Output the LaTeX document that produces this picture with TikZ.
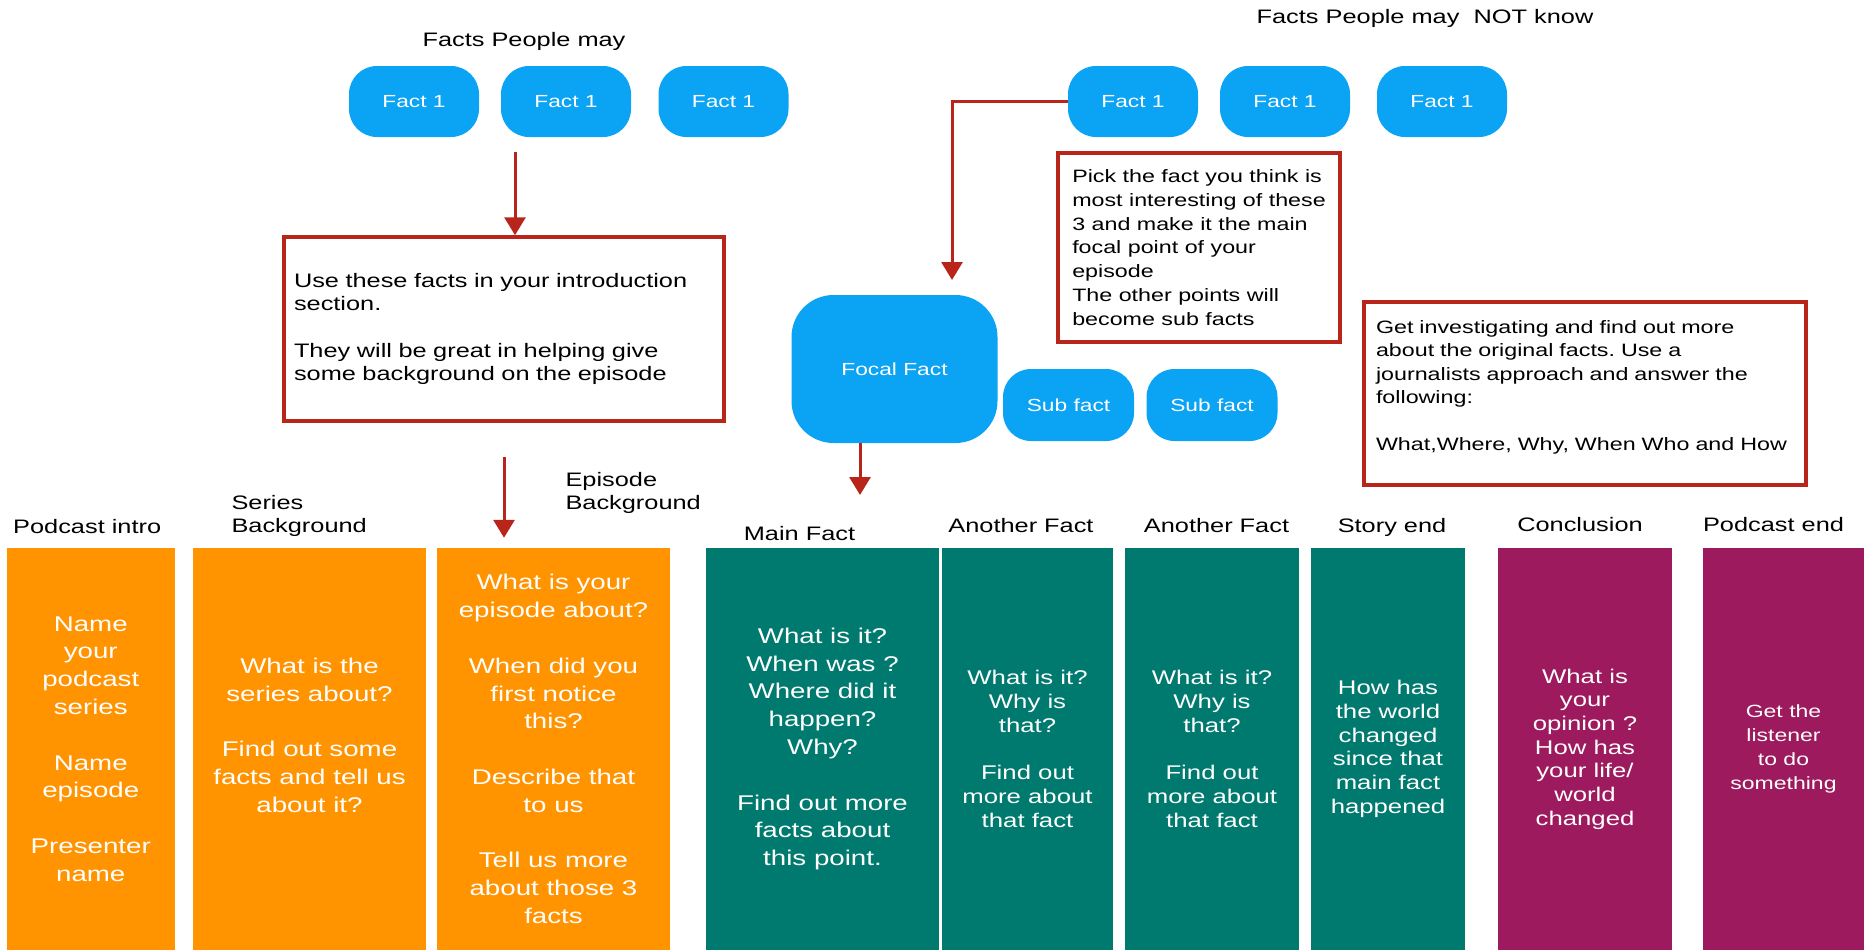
\documentclass[tikz,border=0pt]{standalone}
\usepackage{fontspec}
\setmainfont{Liberation Sans}[FakeStretch=1.3]
\usepackage{tikz}
\usetikzlibrary{arrows.meta}
\definecolor{factblue}{HTML}{0BA3F4}
\definecolor{notered}{HTML}{B8261B}
\definecolor{introorange}{HTML}{FF9300}
\definecolor{storyteal}{HTML}{007A6F}
\definecolor{endplum}{HTML}{9C1A5D}
\newcommand{\fs}[2]{\fontsize{#1}{#2}\selectfont}
\frenchspacing

\begin{document}
\begin{tikzpicture}[x=1pt,y=-1pt,
  fact/.style={fill=factblue,text=white,rounded corners=28pt,minimum width=130pt,minimum height=71pt,font=\fs{17.5}{21}},
  note/.style={draw=notered,line width=3.5pt,align=left,font=\fs{19.5}{23.3}},
  col/.style={text=white,align=center,minimum height=402pt,inner sep=0pt,font=\fs{21.3}{27.8}},
  small/.style={font=\fs{19.8}{23.7}},
  head/.style={anchor=base,font=\fs{19.5}{23.5}},
  arr/.style={notered,line width=3pt,-{Triangle[width=21pt,length=18pt]}}]
  \useasboundingbox (0,0) rectangle (1864,951);

  \node[head] (mayT) at (524,46.5) {Facts People may};
  \node[head] (notT) at (1425,23) {Facts People may\ \ NOT know};
  \node[fact] (may1) at (414,101.5) {Fact 1};
  \node[fact] (may2) at (566,101.5) {Fact 1};
  \node[fact] (may3) at (723.5,101.5) {Fact 1};
  \node[fact] (not1) at (1133,101.5) {Fact 1};
  \node[fact] (not2) at (1285,101.5) {Fact 1};
  \node[fact] (not3) at (1442,101.5) {Fact 1};

  \node[note,text width=420pt,inner xsep=10pt,minimum height=184pt] (intro) at (504,329) {Use these facts in your introduction\\section.\\[23.3pt]They will be great in helping give\\some background on the episode};
  \node[note,font=\fs{17.9}{23.8},minimum width=282pt,minimum height=189pt] (pick) at (1199,247.5) {Pick the fact you think is\\most interesting of these\\3 and make it the main\\focal point of your\\episode\\The other points will\\become sub facts};
  \node[note,font=\fs{17.9}{23.5},text width=418pt,inner xsep=12pt,minimum height=183pt] (dig) at (1585,393.5) {Get investigating and find out more\\about the original facts. Use a\\journalists approach and answer the\\following:\\[23.5pt]What,Where, Why, When Who and How\\[-7.5pt]\mbox{}};

  \node[fact,rounded corners=42pt,minimum width=206pt,minimum height=148pt] (focal) at (894.5,369) {Focal Fact};
  \node[fact,minimum width=131pt,minimum height=72pt] (sub1) at (1068.5,405) {Sub fact};
  \node[fact,minimum width=131pt,minimum height=72pt] (sub2) at (1212,405) {Sub fact};

  \node[head] (podintroT) at (87.2,533.3) {Podcast intro};
  \node[head,anchor=west,align=left] (seriesT) at (228,516) {Series\\Background};
  \node[head,anchor=west,align=left] (episodeT) at (562,493) {Episode\\Background};
  \node[head] (mainT) at (799.5,540) {Main Fact};
  \node[head] (other1T) at (1021,532.5) {Another Fact};
  \node[head] (other2T) at (1216.5,532.5) {Another Fact};
  \node[head] (storyT) at (1392,532) {Story end};
  \node[head] (conclT) at (1580,531.5) {Conclusion};
  \node[head] (podendT) at (1773.5,531.5) {Podcast end};

  \node[col,fill=introorange,minimum width=168.5pt] (podintro) at (90.75,749) {Name\\your\\podcast\\series\\[27.8pt]Name\\episode\\[27.8pt]Presenter\\name};
  \node[col,fill=introorange,minimum width=233pt] (series) at (309.5,749) {What is the\\series about?\\[27.8pt]Find out some\\facts and tell us\\about it?\\\mbox{}};
  \node[col,fill=introorange,minimum width=233pt] (episode) at (553.5,749) {What is your\\episode about?\\[27.8pt]When did you\\first notice\\this?\\[27.8pt]Describe that\\to us\\[27.8pt]Tell us more\\about those 3\\facts};
  \node[col,fill=storyteal,minimum width=233pt] (main) at (822.5,749) {What is it?\\When was ?\\Where did it\\happen?\\Why?\\[27.8pt]Find out more\\facts about\\this point.};
  \node[col,small,fill=storyteal,minimum width=171pt] (other1) at (1027.5,749) {What is it?\\Why is\\that?\\[23.7pt]Find out\\more about\\that fact};
  \node[col,small,fill=storyteal,minimum width=174pt] (other2) at (1212,749) {What is it?\\Why is\\that?\\[23.7pt]Find out\\more about\\that fact};
  \node[col,small,fill=storyteal,minimum width=154pt] (story) at (1388,749) {How has\\the world\\changed\\since that\\main fact\\happened};
  \node[col,small,fill=endplum,minimum width=174pt] (concl) at (1585,749) {What is\\your\\opinion ?\\How has\\your life/\\world\\changed};
  \node[col,fill=endplum,font=\fs{17.7}{24},minimum width=161pt] (podend) at (1783.5,749) {Get the\\listener\\to do\\something};

  \coordinate (a1) at (515,152);
  \coordinate (a2) at (952,280);
  \coordinate (a4) at (860,495);
  \draw[arr] (a1) -- (a1 |- intro.north);
  \draw[arr] (not1.west) -| (a2);
  \draw[arr,shorten <=34pt,shorten >=10pt] (intro.south) -- (intro.south |- episode.north);
  \draw[arr] (focal.south -| a4) -- (a4);
\end{tikzpicture}
\end{document}
